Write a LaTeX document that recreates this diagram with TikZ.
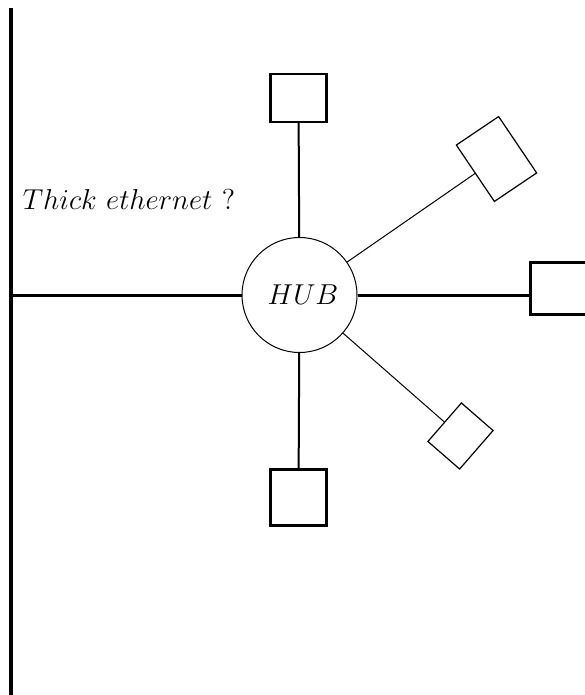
\documentclass[tikz,border=0pt]{standalone}
\usepackage{amsmath,amssymb}
\usepackage{tikz}
\usetikzlibrary{positioning,calc}
\definecolor{ink}{HTML}{000000}
\tikzset{
  busline/.style={draw=ink, line width=2pt},
  tapline/.style={draw=ink, line width=1.5pt},
  dropline/.style={draw=ink, line width=1pt},
  slantline/.style={draw=ink, line width=0.5pt},
  hubcirc/.style={
    draw=ink, circle, line width=0.5pt,
    inner sep=0pt, minimum size=57.5pt,
    font=\fontsize{14.5}{17}\selectfont
  },
  hostbox/.style={
    draw=ink, rectangle, line width=1.2pt, inner sep=0pt
  },
  tiltbox/.style={
    draw=ink, rectangle, line width=0.6pt, inner sep=0pt
  },
  notetext/.style={font=\fontsize{14.5}{17}\selectfont, inner sep=0pt}
}
\begin{document}
\begin{tikzpicture}[x=0.5pt,y=-0.5pt]
  \useasboundingbox (0,0) rectangle (584,695);
  % thick ethernet
  \coordinate (bustop) at (11,8);
  \coordinate (busbot) at (11,695);
  \coordinate (bustap) at (11,295);
  \draw[busline] (bustop) -- (busbot);
  \node[notetext] (note) at (129,200) {$Thick\ ethernet\ ?$};

  \node[hubcirc] (hub) at (299.5,295) {\hspace*{3.5pt}\raisebox{-3pt}{$HUB$}};

  \node[hostbox,minimum width=28pt,minimum height=24pt] (top) at (298.5,98) {};
  \node[hostbox,minimum width=28pt,minimum height=28pt] (bot) at (298.5,497.5) {};
  \node[hostbox,line width=1.5pt,minimum width=30pt,minimum height=26pt] (right) at (560.5,288.5) {};
  \node[tiltbox,rotate=34,minimum width=25.5pt,minimum height=34pt] (upr) at (496.5,159) {};
  \node[tiltbox,rotate=-41,minimum width=21pt,minimum height=25.5pt] (lwr) at (460.5,436) {};

  \draw[tapline] (bustap) -- (hub);
  \draw[tapline] (hub.east) -- (hub.east -| right.west);
  \draw[dropline] (hub) -- (top);
  \draw[dropline] (hub) -- (bot);
  \draw[slantline] (hub) -- (upr.west);
  \draw[slantline] (hub) -- (lwr.west);
\end{tikzpicture}
\end{document}
